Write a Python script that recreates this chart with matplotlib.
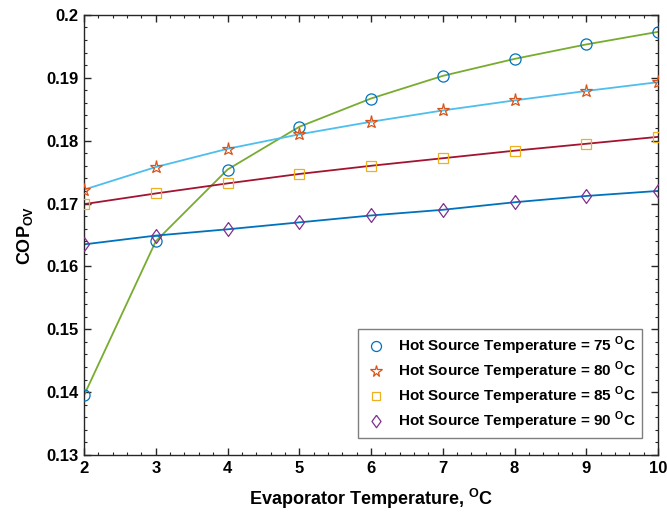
import matplotlib
matplotlib.use("Agg")
import matplotlib.pyplot as plt
from matplotlib.ticker import MultipleLocator

plt.rcParams["font.family"] = ["Liberation Sans", "DejaVu Sans"]
plt.rcParams["mathtext.fontset"] = "custom"
plt.rcParams["mathtext.rm"] = "Liberation Sans"
plt.rcParams["mathtext.bf"] = "Liberation Sans:bold"

# -------------------------
# dados
# -------------------------
evap_temp = [2, 3, 4, 5, 6, 7, 8, 9, 10]
cop_75 = [0.1395, 0.1640, 0.1754, 0.1822, 0.1867, 0.1903, 0.1930, 0.1953, 0.1973]
cop_80 = [0.1722, 0.1758, 0.1787, 0.1810, 0.1830, 0.1848, 0.1864, 0.1879, 0.1893]
cop_85 = [0.1699, 0.1716, 0.1732, 0.1747, 0.1760, 0.1772, 0.1784, 0.1795, 0.1806]
cop_90 = [0.1635, 0.1649, 0.1659, 0.1670, 0.1681, 0.1690, 0.1702, 0.1712, 0.1720]
hot_temps = [75, 80, 85, 90]

y_ticks = [0.13, 0.14, 0.15, 0.16, 0.17, 0.18, 0.19, 0.2]
y_tick_labels = ["0.13", "0.14", "0.15", "0.16", "0.17", "0.18", "0.19", "0.2"]

series = [cop_75, cop_80, cop_85, cop_90]
line_colors = ["#77AC30", "#4DBEEE", "#A2142F", "#0072BD"]
marker_colors = ["#0072BD", "#D95319", "#EDB120", "#7E2F8E"]
diamond = [(0, 1), (0.72, 0), (0, -1), (-0.72, 0), (0, 1)]
markers = ["o", "*", "s", diamond]
marker_sizes = [8, 9.5, 6.5, 10]

fig = plt.figure(figsize=(6.67, 5.13), dpi=100)
ax = fig.add_axes([0.126, 0.113, 0.8605, 0.858])

# curvas
for vals, cor in zip(series, line_colors):
    ax.plot(evap_temp, vals, color=cor, linewidth=1.3, zorder=2)

# pontos
for vals, mk, ms, cor, t in zip(series, markers, marker_sizes, marker_colors, hot_temps):
    ax.plot(evap_temp, vals, linestyle="none", marker=mk, markersize=ms,
            markerfacecolor="none", markeredgecolor=cor, markeredgewidth=0.9,
            label=r"Hot Source Temperature = %d $^{\mathbf{O}}$C" % t, zorder=3)

ax.set_xlim(2, 10)
ax.set_ylim(0.13, 0.2)
ax.set_xticks(evap_temp)
ax.set_yticks(y_ticks)
ax.set_yticklabels(y_tick_labels)
ax.xaxis.set_minor_locator(MultipleLocator(0.2))
ax.yaxis.set_minor_locator(MultipleLocator(0.002))
ax.tick_params(which="both", direction="in", top=True, right=True, color="#262626")
ax.tick_params(which="major", length=5, width=1, labelsize=12, pad=4)
ax.tick_params(which="minor", length=2.5, width=0.8)
for lab in ax.get_xticklabels() + ax.get_yticklabels():
    lab.set_fontweight("bold")
for sp in ax.spines.values():
    sp.set_color("#262626")
    sp.set_linewidth(1)

ax.set_xlabel(r"Evaporator Temperature, $^{\mathbf{O}}$C", fontsize=13, fontweight="bold", labelpad=8)
ax.set_ylabel(r"COP$_{\mathbf{OV}}$", fontsize=13, fontweight="bold", labelpad=8)

leg = ax.legend(loc="lower right", bbox_to_anchor=(0.9716, 0.038), borderaxespad=0,
                prop={"size": 11, "weight": "bold"}, fancybox=False, framealpha=1,
                edgecolor="#7f7f7f", labelspacing=0.18, handletextpad=0.6,
                handlelength=1.6, borderpad=0.4, markerscale=0.9)
leg.get_frame().set_linewidth(1)

fig.savefig("out.png", dpi=100)
